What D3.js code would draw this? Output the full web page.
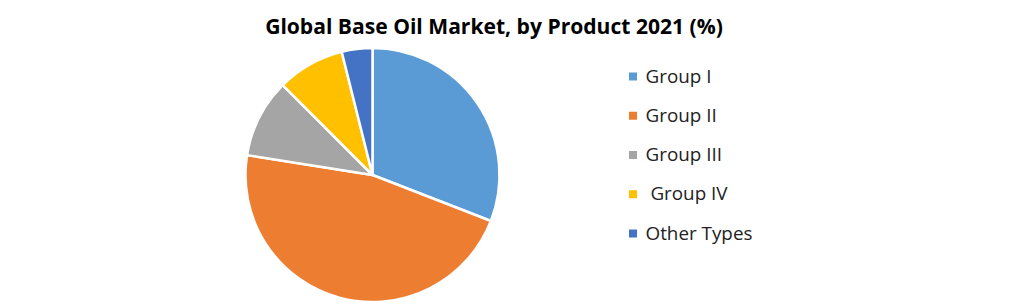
<!DOCTYPE html>
<html>
<head>
<meta charset="utf-8">
<script src="https://cdn.jsdelivr.net/npm/d3@7"></script>
<style>
  body { margin: 0; background: #fff; }
  text { font-family: "Open Sans", Lato, sans-serif; }
</style>
</head>
<body>
<div id="chart"></div>
<script>
let width = 1021;
let height = 304;

// data
let categories = ["Group I", "Group II", "Group III", " Group IV", "Other Types"];
let shares = [30.9, 46.6, 10.0, 8.6, 3.9];
let colors = ["#5B9BD5", "#ED7D31", "#A5A5A5", "#FFC000", "#4472C4"];

let cx = 372.5, cy = 175, radius = 127;

let svg = d3.select("#chart").append("svg")
	.attr("width", width)
	.attr("height", height);

svg.append("rect")
	.attr("width", width)
	.attr("height", height)
	.attr("fill", "white");

let data = categories.map((c, i) => ({name: c, value: shares[i], color: colors[i]}));

let pie = d3.pie()
	.value(d => d.value)
	.sort(null);

let arc = d3.arc()
	.innerRadius(0)
	.outerRadius(radius);

svg.append("g")
	.attr("transform", `translate(${cx},${cy})`)
	.selectAll("path")
	.data(pie(data))
	.enter()
	.append("path")
	.attr("d", arc)
	.attr("fill", d => d.data.color)
	.attr("stroke", "white")
	.attr("stroke-width", 2.5)
	.attr("stroke-linejoin", "round");

// title, sized so it spans the same width as the original
let title = svg.append("text")
	.text("Global Base Oil Market, by Product 2021 (%)")
	.attr("x", 494)
	.attr("y", 34)
	.attr("text-anchor", "middle")
	.attr("font-size", "20px")
	.attr("font-weight", "bold")
	.attr("fill", "#000");
let tw = title.node().getComputedTextLength();
title.attr("font-size", (20 * 458 / tw) + "px");

// legend
let legendY = d3.scalePoint()
	.domain(categories)
	.range([76.5, 233.5]);

let legend = svg.append("g")
	.selectAll("g")
	.data(data)
	.enter()
	.append("g")
	.attr("transform", d => `translate(629,${legendY(d.name)})`);

legend.append("rect")
	.attr("x", 0)
	.attr("y", -4)
	.attr("width", 8)
	.attr("height", 8)
	.attr("fill", d => d.color);

let labels = legend.append("text")
	.text(d => d.name)
	.attr("x", 16.5)
	.attr("y", 6)
	.attr("xml:space", "preserve")
	.style("white-space", "pre")
	.attr("font-size", "17px")
	.attr("fill", "#222");
let lw = labels.filter(d => d.name === "Other Types").node().getComputedTextLength();
labels.attr("font-size", (17 * 107 / lw) + "px");
</script>
</body>
</html>
